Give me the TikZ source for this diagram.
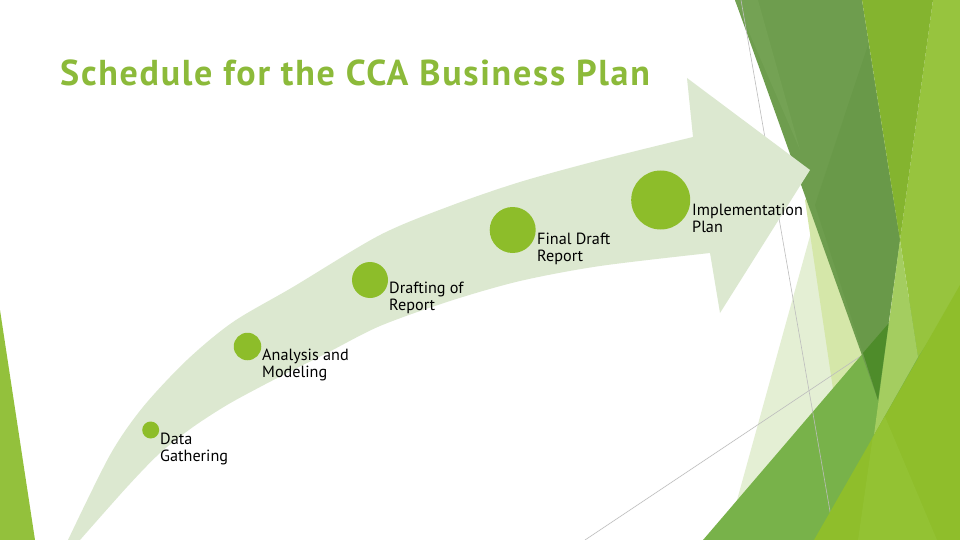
\documentclass[tikz,border=0pt]{standalone}
\usepackage{fontspec}
\setmainfont{PT Sans}
\definecolor{band}{HTML}{DCE8D0}
\definecolor{dot}{HTML}{8DBD2A}
\definecolor{ttl}{HTML}{8CBA3A}
\definecolor{muted}{HTML}{6E9D4E}
\definecolor{mutedd}{HTML}{699949}
\definecolor{mutedl}{HTML}{74A254}
\definecolor{olive}{HTML}{84B42F}
\definecolor{brt}{HTML}{97C43E}
\definecolor{med}{HTML}{78B24A}
\definecolor{wedge}{HTML}{4E8C2A}
\definecolor{lime}{HTML}{8FBE2B}
\definecolor{limel}{HTML}{93C233}
\definecolor{vlight}{HTML}{E4EFD4}
\definecolor{pyel}{HTML}{D5E7A9}
\definecolor{pstrip}{HTML}{A4CD60}
\definecolor{lstrip}{HTML}{93C13C}
\definecolor{thinl}{HTML}{BDBDBD}
\begin{document}
\begin{tikzpicture}[x=1pt,y=-1pt,
  milestone/.style={circle, fill=dot, inner sep=0pt},
  lbl/.style={anchor=north west, inner sep=0pt, align=left, text=black,
    font=\fontsize{16.2}{17.3}\selectfont},
  thinline/.style={draw=thinl, line width=0.6pt}]
\useasboundingbox (0,0) rectangle (960,540);
\fill[white] (0,0) rectangle (960,540);
% ---- right-hand facets ----
\fill[vlight] (831,160) -- (726,540) -- (880,540) -- cycle;
\fill[pyel] (805,200) -- (845,470) -- (900,470) -- (860,150) -- cycle;
\coordinate (b1) at (585,540);
\coordinate (b2) at (861,356);
\draw[thinline] (b1) -- (b2);
\fill[med] (703,540) -- (960,240) -- (960,540) -- cycle;
\fill[brt] (933,0) -- (960,0) -- (960,292) -- (918,357) -- (900,240) -- cycle;
\fill[muted] (735,0) -- (862,0) -- (900,240) -- (878,400) -- cycle;
\fill[mutedl] (735,0) -- (758,0) -- (800,150) -- cycle;
\fill[mutedd] (868,45) -- (900,240) -- (878,400) -- (815,205) -- cycle;
\fill[wedge] (863,353) -- (888.6,323.4) -- (878,400) -- cycle;
\fill[olive] (862,0) -- (933,0) -- (900,240) -- cycle;
\fill[pstrip] (900,240) -- (918,357) -- (874,435) -- cycle;
\coordinate (a1) at (741,0);
\coordinate (a2) at (835,540);
\draw[thinline] (a1) -- (a2);
\fill[lime] (814,540) -- (960,285) -- (960,540) -- cycle;
\begin{scope}
  \clip (814,540) -- (960,285) -- (960,540) -- cycle;
  \fill[limel] (878,400) -- (858,540) -- (937,540) -- cycle;
\end{scope}
% ---- left strip ----
\fill[lstrip] (0,310) -- (35,540) -- (0,540) -- cycle;
% ---- curved arrow ----
\fill[band] plot[smooth, tension=0.5] coordinates {(68,540) (110,455) (143,407) (187,360) (233,322) (293,287) (380,235) (450,206) (520,182) (600,160) (693,137)}
  -- (687,78) -- (810,170) -- (720,313) -- (710,253)
  -- plot[smooth, tension=0.5] coordinates {(710,253) (600,266) (520,281) (450,301) (380,326) (327,353) (293,370) (260,387) (227,405) (193,427) (160,453) (127,487) (80,540)}
  -- cycle;
% ---- milestones ----
\node[milestone, minimum size=17pt] (m1) at (150.7,430) {};
\node[milestone, minimum size=27.5pt] (m2) at (247.5,346.5) {};
\node[milestone, minimum size=36pt] (m3) at (370,280) {};
\node[milestone, minimum size=46pt] (m4) at (512.7,230) {};
\node[milestone, minimum size=59pt] (m5) at (660.7,200) {};
\node[lbl] (t1) at (160,432.5) {Data\\Gathering};
\node[lbl] (t2) at (262,348.5) {Analysis and\\Modeling};
\node[lbl] (t3) at (389,281.5) {Drafting of\\Report};
\node[lbl] (t4) at (537,232.5) {Final Draft\\Report};
\node[lbl] (t5) at (692,203.5) {Implementation\\Plan};
% ---- title ----
\node[anchor=base west, inner sep=0pt, text=ttl, font=\fontsize{36}{42}\selectfont\bfseries\addfontfeatures{LetterSpace=4.8}] (title) at (60,86) {Schedule for the CCA Business Plan};
\end{tikzpicture}
\end{document}
